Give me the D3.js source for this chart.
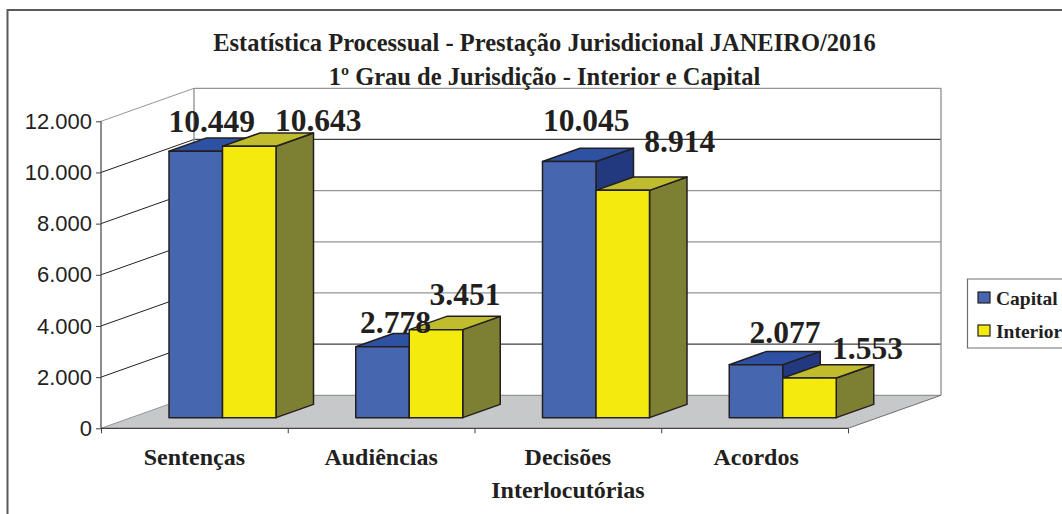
<!DOCTYPE html>
<html>
<head>
<meta charset="utf-8">
<script src="https://cdnjs.cloudflare.com/ajax/libs/d3/7.8.5/d3.min.js"></script>
<style>
    html, body { margin: 0; padding: 0; background: #fff; overflow: hidden; }
    svg { display: block; }
    text { fill: #231f20; }
    .serif { font-family: "Liberation Serif", serif; font-weight: bold; }
</style>
</head>
<body>
<div id="chart"></div>
<script>
const categories = [["Sentenças"], ["Audiências"], ["Decisões", "Interlocutórias"], ["Acordos"]];
const seriesNames = ["Capital", "Interior"];
const capital = [10449, 2778, 10045, 2077];
const interior = [10643, 3451, 8914, 1553];
const yTicks = [0, 2000, 4000, 6000, 8000, 10000, 12000];
const titleLines = ["Estatística Processual - Prestação Jurisdicional JANEIRO/2016", "1º Grau de Jurisdição - Interior e Capital"];

const colors = {
    Capital: { front: "#4666b0", top: "#2f51a3", side: "#22397f" },
    Interior: { front: "#f5ea0e", top: "#bfbd2e", side: "#7d7f32" }
};

// hand placed labels: shift from the top centre of each bar's front face
const labelShift = {
    Capital: [[16, -19], [13, -14], [17, -31], [29, -22]],
    Interior: [[69, -15], [29, -25], [57, -38], [58, -19]]
};

const width = 1062, height = 514;
const left = 101, right = 848, floorY = 428.3, topY = 121.3;
const depthX = 93, depthY = 33;
const barOffset = 30 / 93, barDepth = 37.5 / 93;

const svg = d3.select("#chart").append("svg")
    .attr("width", width)
    .attr("height", height);

// outer frame
svg.append("path")
    .attr("d", "M7.5,514V10H1062")
    .attr("fill", "none")
    .attr("stroke", "#58595b")
    .attr("stroke-width", 2);

const y = d3.scaleLinear().domain([0, 12000]).range([floorY, topY]);
const x0 = d3.scaleBand().domain(d3.range(categories.length)).range([left, right]);
const x1 = d3.scaleBand().domain(seriesNames).range([68, 68 + 107]);

// floor
const floorPts = [[left, floorY], [left + depthX, floorY - depthY], [right + depthX, floorY - depthY], [right, floorY]];
svg.append("polygon")
    .attr("points", floorPts.join(" "))
    .attr("fill", "#c7c8ca");

// back wall and side wall grid
yTicks.forEach(t => {
    const major = t === 12000 || t === 0;
    svg.append("line")
        .attr("x1", left + depthX).attr("x2", right + depthX)
        .attr("y1", y(t) - depthY).attr("y2", y(t) - depthY)
        .attr("stroke", major ? "#939598" : (t === 2000 || t === 10000 ? "#414042" : "#939598"))
        .attr("stroke-width", 1.2);
    svg.append("line")
        .attr("x1", left).attr("x2", left + depthX)
        .attr("y1", y(t)).attr("y2", y(t) - depthY)
        .attr("stroke", major ? "#939598" : "#231f20")
        .attr("stroke-width", 1);
});
[left + depthX, right + depthX].forEach(wx => {
    svg.append("line")
        .attr("x1", wx).attr("x2", wx)
        .attr("y1", y(12000) - depthY).attr("y2", floorY - depthY)
        .attr("stroke", "#939598").attr("stroke-width", 1.4);
});
svg.append("line")
    .attr("x1", right).attr("x2", right + depthX)
    .attr("y1", floorY).attr("y2", floorY - depthY)
    .attr("stroke", "#6d6e71").attr("stroke-width", 1);

// axes
const axisX = d3.scaleLinear().domain([0, categories.length]).range([left, right]);
const axes = svg.append("g").attr("class", "axes");
axes.append("g")
    .attr("transform", `translate(0,${floorY})`)
    .call(d3.axisBottom(axisX).tickValues(d3.range(categories.length + 1)).tickFormat("").tickSize(5))
    .call(g => g.selectAll(".domain").attr("stroke", "#414042").attr("stroke-width", 1.2).attr("d", `M${left},0H${right}`))
    .call(g => g.selectAll(".tick line").attr("stroke", "#414042"));
axes.append("g")
    .attr("transform", `translate(${left},0)`)
    .call(d3.axisLeft(y).tickValues(yTicks).tickSize(5).tickFormat(d => d3.format(",")(d).replace(",", ".")))
    .call(g => g.selectAll(".domain").attr("stroke", "#414042").attr("stroke-width", 1.2).attr("d", `M0,${topY}V${floorY}`))
    .call(g => g.selectAll(".tick line").attr("stroke", "#414042"))
    .call(g => g.selectAll("text")
        .attr("x", -9)
        .style("font-size", "22px")
        .style("font-family", '"Liberation Sans", sans-serif'));

// bars, series by series, so Interior overlaps Capital's side
const offX = depthX * barOffset, offY = depthY * barOffset;
const dX = depthX * barDepth, dY = depthY * barDepth;
const barData = categories.flatMap((c, i) => [
    { i, name: "Capital", value: capital[i] },
    { i, name: "Interior", value: interior[i] }
]);
const barY = d3.scaleLinear().domain([0, 12000]).range([floorY - offY, floorY - offY - 306]);

const bars = svg.selectAll(".bar").data(barData).enter().append("g").attr("class", "bar")
    .attr("stroke", "#231f20").attr("stroke-width", 1.5).attr("stroke-linejoin", "round");

const bx = d => x0(d.i) + x1(d.name);
const bw = x1.bandwidth();
const by0 = barY(0);
const byt = d => barY(d.value);

bars.append("polygon") // side
    .attr("points", d => [[bx(d) + bw, byt(d)], [bx(d) + bw + dX, byt(d) - dY], [bx(d) + bw + dX, by0 - dY], [bx(d) + bw, by0]].join(" "))
    .attr("fill", d => colors[d.name].side);
bars.append("polygon") // top
    .attr("points", d => [[bx(d), byt(d)], [bx(d) + dX, byt(d) - dY], [bx(d) + bw + dX, byt(d) - dY], [bx(d) + bw, byt(d)]].join(" "))
    .attr("fill", d => colors[d.name].top);
bars.append("rect") // front
    .attr("x", bx)
    .attr("y", byt)
    .attr("width", bw)
    .attr("height", d => by0 - byt(d))
    .attr("fill", d => colors[d.name].front);

// value labels
svg.selectAll(".value").data(barData).enter().append("text")
    .attr("class", "value serif")
    .attr("x", d => bx(d) + bw / 2 + labelShift[d.name][d.i][0])
    .attr("y", d => byt(d) + labelShift[d.name][d.i][1])
    .attr("text-anchor", "middle")
    .style("font-size", "31.5px")
    .text(d => d3.format(",")(d.value).replace(",", "."));

// category labels
categories.forEach((lines, i) => {
    lines.forEach((line, k) => {
        svg.append("text")
            .attr("class", "serif")
            .attr("x", x0(i) + x0.bandwidth() / 2 + (i === 3 ? 1.5 : 0))
            .attr("y", 465 + k * 33)
            .attr("text-anchor", "middle")
            .style("font-size", "24px")
            .text(line);
    });
});

// title
titleLines.forEach((line, k) => {
    svg.append("text")
        .attr("class", "serif")
        .attr("x", 544.5)
        .attr("y", 51 + k * 34)
        .attr("text-anchor", "middle")
        .style("font-size", "24.5px")
        .text(line);
});

// legend
const legend = svg.append("g");
legend.append("path")
    .attr("d", "M1062,279H967.5V348H1062")
    .attr("fill", "#fff")
    .attr("stroke", "#6d6e71")
    .attr("stroke-width", 1.2);
seriesNames.forEach((name, k) => {
    legend.append("rect")
        .attr("x", 978).attr("y", 292 + k * 33)
        .attr("width", 12).attr("height", 11)
        .attr("fill", colors[name].front)
        .attr("stroke", "#231f20").attr("stroke-width", 1.2);
    legend.append("text")
        .attr("class", "serif")
        .attr("x", 996).attr("y", 305 + k * 33)
        .style("font-size", "19.5px")
        .text(name);
});
</script>
</body>
</html>
